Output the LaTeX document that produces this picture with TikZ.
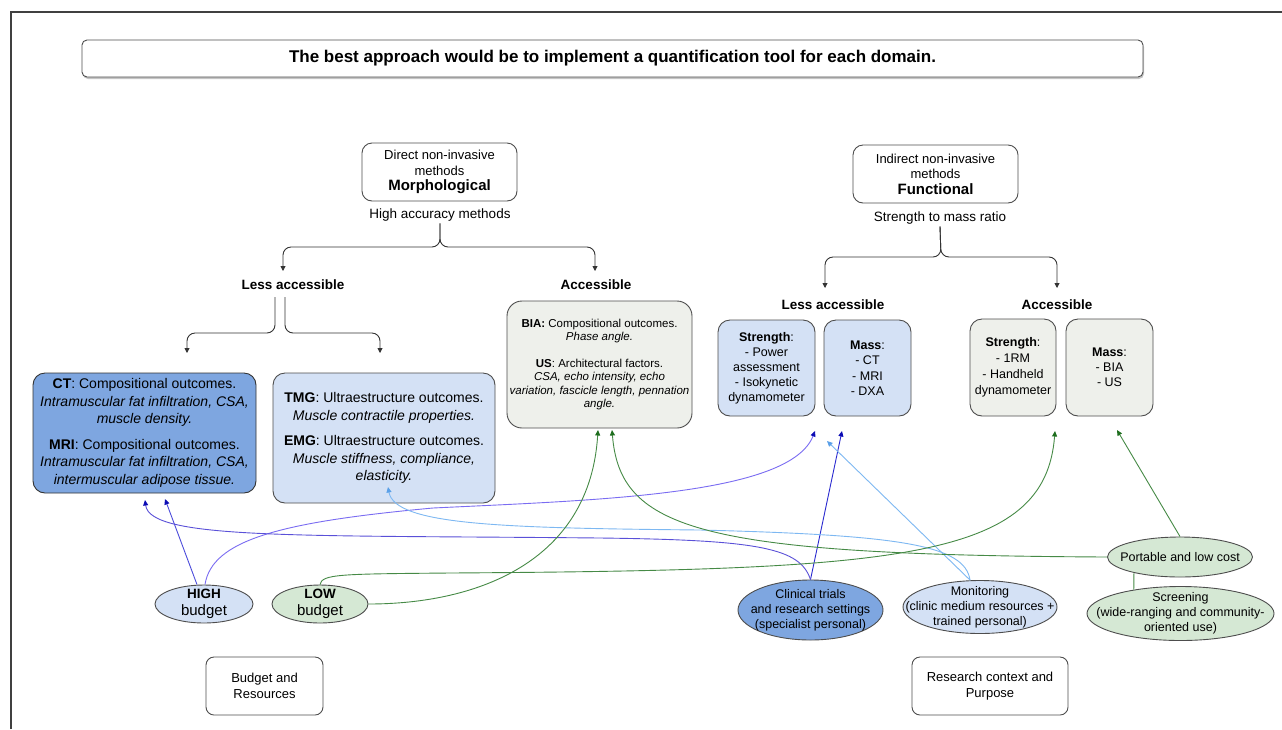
\documentclass[tikz,border=0pt]{standalone}
\usepackage{fontspec}
\setmainfont{Liberation Sans}
\usetikzlibrary{arrows.meta,shapes.geometric,shadows,calc}
\definecolor{cblue}{HTML}{7EA6E0}
\definecolor{lblue}{HTML}{D4E1F5}
\definecolor{lgreen}{HTML}{D5E8D4}
\definecolor{lgrey}{HTML}{EEF0EB}
\definecolor{bordr}{HTML}{4D4D4D}
\definecolor{lnA}{HTML}{4C4CDB}
\definecolor{lnB}{HTML}{7A6CF2}
\definecolor{lnC}{HTML}{2A2AD0}
\definecolor{lnD}{HTML}{5A50D8}
\definecolor{lnL}{HTML}{7DB8F2}
\definecolor{tipL}{HTML}{5AA0E8}
\definecolor{lnG}{HTML}{468A46}
\definecolor{tipB}{HTML}{0A0AB4}
\definecolor{tipG}{HTML}{1E6E1E}
\newcommand{\myfs}[2]{\fontsize{#1}{#2}\selectfont}
\tikzset{
 box/.style={draw=bordr, line width=0.9pt, rounded corners=12pt, align=center, inner sep=0pt},
 ell/.style={ellipse, draw=bordr, line width=0.9pt, inner sep=0pt},
 etxt/.style={align=center, inner sep=0pt, font=\myfs{12.5}{15}},
 lbl/.style={align=center, inner sep=2pt},
 blk/.style={draw=black!80, line width=0.9pt, rounded corners=8pt, -{Triangle[length=5pt,width=5pt]}},
 bl/.style={line width=0.9pt, -{Triangle[length=5.5pt,width=5pt,color=tipB]}},
 lb/.style={line width=0.9pt, draw=lnL, -{Triangle[length=5.5pt,width=5pt,color=tipL]}},
 gr/.style={line width=0.9pt, draw=lnG, -{Triangle[length=5.5pt,width=5pt,color=tipG]}},
}
\begin{document}
\begin{tikzpicture}[x=1pt,y=-1pt]
\useasboundingbox (0,0) rectangle (1282,729);
\fill[white] (0,0) rectangle (1282,729);
\draw[line width=1.2pt, draw=black!75] (11,729) -- (11,12) -- (1282,12);

% banner
\node[box, rounded corners=5pt, minimum width=1061pt, minimum height=37pt, fill=white,
  drop shadow={shadow xshift=1pt,shadow yshift=-2pt,opacity=.45},
  font=\bfseries\myfs{17}{19}] (banner) at (612.5,58.5)
  {The best approach would be to implement a quantification tool for each domain.};

% morphological
\node[box, rounded corners=10pt, minimum width=155pt, minimum height=58pt, font=\myfs{13}{15.5}] (morph) at (439.5,172)
  {Direct non-invasive\\methods\\{\bfseries\myfs{15}{18}Morphological}};
\node[lbl, font=\myfs{13.5}{16}] (hacc) at (440,215) {High accuracy methods};
\coordinate (mSplit) at (440,247);
\coordinate (tMless) at (283,271);
\coordinate (tMacc) at (595,271);
\draw[blk] (hacc.south) -- (mSplit) -| (tMless);
\draw[blk] (hacc.south) -- (mSplit) -| (tMacc);
\node[lbl, font=\bfseries\myfs{13.5}{16}] (lessM) at (293,285) {Less accessible};
\node[lbl, font=\bfseries\myfs{13.5}{16}] (accM) at (596,285) {Accessible};
\coordinate (tCTin) at (187,353);
\coordinate (tTMGin) at (380,353);
\draw[blk] ([xshift=-18pt,yshift=-5pt]lessM.south) |- ([yshift=20pt]tCTin) -- (tCTin);
\draw[blk] ([xshift=-8pt,yshift=-5pt]lessM.south) |- ([yshift=20pt]tTMGin) -- (tTMGin);

% functional
\node[box, rounded corners=10pt, minimum width=165pt, minimum height=58pt, font=\myfs{13}{15.5}] (func) at (935.5,174)
  {Indirect non-invasive\\methods\\{\bfseries\myfs{15}{18}Functional}};
\node[lbl, font=\myfs{13.5}{16}] (sratio) at (940,218) {Strength to mass ratio};
\coordinate (fSplit) at (941,257);
\coordinate (tFless) at (825,288);
\coordinate (tFacc) at (1057,288);
\draw[blk] (sratio.south) -- (fSplit) -| (tFless);
\draw[blk] (sratio.south) -- (fSplit) -| (tFacc);
\node[lbl, font=\bfseries\myfs{13.5}{16}] (lessF) at (833,305) {Less accessible};
\node[lbl, font=\bfseries\myfs{13.5}{16}] (accF) at (1057,305) {Accessible};

% morphological boxes
\node[box, fill=cblue, draw=black!80, minimum width=223pt, minimum height=120pt, font=\myfs{14}{17.5}] (ct) at (144.5,433)
  {\textbf{CT}: Compositional outcomes.\\\textit{Intramuscular fat infiltration, CSA,}\\\textit{muscle density.}\\[8pt]
   \textbf{MRI}: Compositional outcomes.\\\textit{Intramuscular fat infiltration, CSA,}\\\textit{intermuscular adipose tissue.}};
\node[box, fill=lblue, minimum width=222pt, minimum height=130pt, font=\myfs{14}{17.5}] (tmg) at (384,438)
  {\textbf{TMG}: Ultraestructure outcomes.\\\textit{Muscle contractile properties.}\\[8pt]
   \textbf{EMG}: Ultraestructure outcomes.\\\textit{Muscle stiffness, compliance,}\\\textit{elasticity.}};
\node[box, rounded corners=15pt, fill=lgrey, minimum width=185pt, minimum height=127pt, font=\myfs{11.5}{13.5}] (bia) at (599.5,364.5)
  {\textbf{BIA:} Compositional outcomes.\\\textit{Phase angle.}\\[13pt]
   \textbf{US}: Architectural factors.\\\textit{CSA, echo intensity, echo}\\\textit{variation, fascicle length, pennation}\\\textit{angle.}};

% functional boxes
\node[box, fill=lblue, minimum width=97pt, minimum height=96pt, font=\myfs{12.5}{15}] (sL) at (766.5,368)
  {\textbf{Strength}:\\- Power\\assessment\\- Isokynetic\\dynamometer};
\node[box, fill=lblue, minimum width=87pt, minimum height=96pt, font=\myfs{12.5}{15.5}] (mL) at (867.5,368)
  {\textbf{Mass}:\\- CT\\- MRI\\- DXA};
\node[box, fill=lgrey, minimum width=86pt, minimum height=97pt, font=\myfs{12.5}{16}] (sA) at (1013,367.5)
  {\textbf{Strength}:\\- 1RM\\- Handheld\\dynamometer};
\node[box, fill=lgrey, minimum width=87pt, minimum height=97pt, font=\myfs{12.5}{15}] (mA) at (1109.5,367.5)
  {\textbf{Mass}:\\- BIA\\- US};

% ellipses
\node[ell, fill=lblue, minimum width=98pt, minimum height=38pt,
  label={[align=center, inner sep=0pt, font=\myfs{13.5}{17}]center:{\textbf{HIGH}\\{\myfs{15}{17}budget}}}] (high) at (204,604) {};
\node[ell, fill=lgreen, minimum width=96pt, minimum height=38pt,
  label={[align=center, inner sep=0pt, font=\myfs{13.5}{17}]center:{\textbf{LOW}\\{\myfs{15}{17}budget}}}] (low) at (320,604) {};
\node[ell, fill=cblue, minimum width=145pt, minimum height=60pt,
  label={[etxt]center:{Clinical trials\\and research settings\\(specialist personal)}}] (clin) at (810.5,610) {};
\node[ell, fill=lblue, minimum width=154pt, minimum height=53pt,
  label={[etxt]center:{Monitoring\\(clinic medium resources +\\trained personal)}}] (mon) at (980,607) {};
\node[ell, fill=lgreen, minimum width=145pt, minimum height=40pt,
  label={[etxt]center:{Portable and low cost}}] (port) at (1180,557) {};
\node[ell, fill=lgreen, minimum width=187pt, minimum height=54pt,
  label={[etxt]center:{Screening\\(wide-ranging and community-\\oriented use)}}] (scr) at (1180.5,613.5) {};

% bottom boxes
\node[box, rounded corners=8pt, minimum width=117pt, minimum height=58pt, font=\myfs{13}{16}] (budget) at (264.5,686)
  {Budget and\\Resources};
\node[box, rounded corners=8pt, minimum width=156pt, minimum height=58pt, font=\myfs{13}{16}] (context) at (990,686)
  {Research context and\\Purpose};

% arrow tips (free ends)
\coordinate (tCTa) at (165,499);
\coordinate (tCTb) at (145,500);
\coordinate (tTMG) at (388,487);
\coordinate (tBIAa) at (598,430);
\coordinate (tBIAb) at (612,430);
\coordinate (tSL) at (815,431);
\coordinate (tML) at (842,431);
\coordinate (tMLb) at (827,441);
\coordinate (tSA) at (1055,431);
\coordinate (tMA) at (1117,430);

% connectors
\draw[bl, draw=lnA] ([xshift=-7pt]high.north) -- (tCTa);
\draw[bl, draw=lnB] ([xshift=1pt]high.north) .. controls (212,540) and (280,522) .. (433,508)
   .. controls (600,500) and (790,495) .. (tSL);
\draw[bl, draw=lnC] (clin.north) -- (tML);
\draw[bl, draw=lnD] (clin.north) .. controls (800,548) and (760,540) .. (600,538)
   .. controls (300,535) and (150,540) .. (tCTb);
\draw[lb] ([xshift=-10pt]mon.north) -- (tMLb);
\draw[lb] ([xshift=-10pt]mon.north) .. controls (965,545) and (900,535) .. (700,530)
   .. controls (500,528) and (395,525) .. (tTMG);
\draw[gr] (low.east) .. controls (480,604) and (590,560) .. (tBIAa);
\draw[gr] (low.north) .. controls (322,574) and (340,574) .. (450,573)
   .. controls (900,570) and (1045,560) .. (tSA);
\draw[gr] (port.west) .. controls (700,555) and (620,530) .. (tBIAb);
\draw[gr] (port.north) -- (tMA);
\draw[draw=lnG, line width=0.9pt] (port.199) -- (scr.153);
\end{tikzpicture}
\end{document}
